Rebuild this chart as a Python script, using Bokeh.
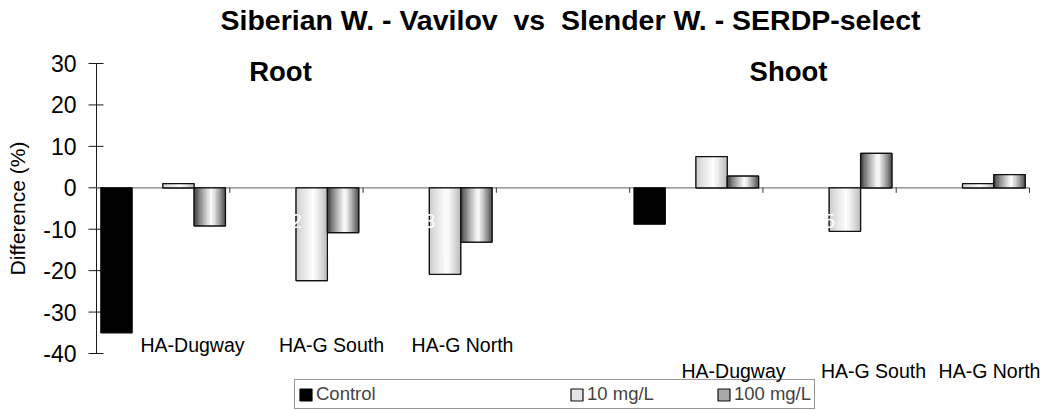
import numpy as np
from bokeh.plotting import figure
from bokeh.models import Range1d, Legend, LegendItem, ColumnDataSource
from bokeh.embed import file_html
from bokeh.resources import INLINE
from bokeh.core.properties import value

# ---------------- data ----------------
title_text = "Siberian W. - Vavilov\u00a0 vs\u00a0 Slender W. - SERDP-select"
categories = ["1", "2", "3", "", "4", "5", "6"]          # category labels (drawn in white)
series_names = ["Control", "\u00a0" * 10, "10 mg/L", "100 mg/L"]
control = [-35.0, None, None, None, -8.8, None, None]
mg10 = [1.0, -22.4, -20.9, None, 7.5, -10.5, 1.0]
mg100 = [-9.2, -10.8, -13.1, None, 2.8, 8.3, 3.2]
group_titles = ["Root", "Shoot"]
root_sites = ["HA-Dugway", "HA-G South", "HA-G North"]
shoot_sites = ["HA-Dugway", "HA-G South", "HA-G North"]
y_ticks = [-40, -30, -20, -10, 0, 10, 20, 30]
y_label = "Difference (%)"

FONT = "Liberation Sans"
N = len(categories)
BW = 0.235
slot = [0.15, 0.385, 0.615, 0.85]

# layout: plot area (0..N, -40..30) occupies canvas px x 96..1029, y 63..353
W, H = 1055, 410
L, R, T, B = 96, 26, 63, 57
Y0, Y1 = min(y_ticks), max(y_ticks)
kx = (W - L - R) / N
ky = (H - T - B) / (Y1 - Y0)
p = figure(width=W, height=H,
           x_range=Range1d(-L / kx, N + R / kx),
           y_range=Range1d(Y0 - B / ky, Y1 + T / ky),
           output_backend="svg", toolbar_location=None, title=None,
           x_axis_location=None, y_axis_location=None,
           min_border=0)
p.grid.visible = False
p.outline_line_color = None
p.background_fill_color = "white"

def dx(px):
    return px / kx

def dy(px):
    return px / ky

# ---- value axis (drawn by hand so that the frame can cover the whole canvas) ----
p.segment(x0=[0], y0=[Y0], x1=[0], y1=[Y1], line_color="#1a1a1a", line_width=1)
p.segment(x0=[-dx(8)] * len(y_ticks), y0=y_ticks, x1=[dx(7)] * len(y_ticks), y1=y_ticks,
          line_color="#1a1a1a", line_width=1)
p.text(x=[-dx(20)] * len(y_ticks), y=y_ticks, text=[str(t) for t in y_ticks],
       text_align="right", text_baseline="middle", text_color="black",
       text_font=value(FONT), text_font_size="23px")
p.text(x=[-dx(79)], y=[(Y0 + Y1) / 2], text=[y_label], angle=np.pi / 2,
       text_align="center", text_baseline="middle", text_color="black",
       text_font=value(FONT), text_font_size="21px")

# category axis line at zero and its boundary ticks
p.segment(x0=[0], y0=[0], x1=[N], y1=[0], line_color="#7f7f7f", line_width=1.2)
bounds = list(range(1, N + 1))
p.segment(x0=bounds, y0=[0] * len(bounds), x1=bounds, y1=[-dy(5)] * len(bounds),
          line_color="#333333", line_width=1)

xs_cat = np.arange(N)

def present(vals):
    idx = [i for i, v in enumerate(vals) if v is not None]
    return [float(xs_cat[i]) for i in idx], [vals[i] for i in idx]

def gray(g):
    g = int(round(max(0, min(255, g))))
    return "#%02x%02x%02x" % (g, g, g)

def strips(vals, off, e_left, e_right, peak=0.55, n=24):
    X, Tp, C = [], [], []
    for i, v in enumerate(vals):
        if v is None:
            continue
        left = i + off - BW / 2
        for k in range(n):
            t = (k + 0.5) / n
            if t < peak:
                g = e_left + (255 - e_left) * (t / peak) ** 0.8
            else:
                g = 255 + (e_right - 255) * ((t - peak) / (1 - peak)) ** 1.2
            X.append(left + (k + 0.5) * BW / n)
            Tp.append(v)
            C.append(gray(g))
    return ColumnDataSource(dict(x=X, top=Tp, color=C)), BW / n * 1.3

# Control (solid black)
cx, cv = present(control)
r_ctrl = p.vbar(x=[x + slot[0] for x in cx], top=cv, bottom=0, width=BW,
                fill_color="black", line_color="black", line_width=1.2)

# hidden series (legend placeholder only)
r_hidden = p.vbar(x=[np.nan], top=[np.nan], bottom=0, width=BW,
                  fill_alpha=0, line_alpha=0)

# 10 mg/L
x10, v10 = present(mg10)
r_10 = p.vbar(x=[x + slot[2] for x in x10], top=v10, bottom=0, width=BW,
              fill_color="#e4e4e4", line_color="#111111", line_width=1.2)
s10, w10 = strips(mg10, slot[2], 200, 185)
p.vbar(x="x", top="top", bottom=0, width=w10, source=s10,
       fill_color="color", line_color=None)
p.vbar(x=[x + slot[2] for x in x10], top=v10, bottom=0, width=BW,
       fill_alpha=0, line_color="#111111", line_width=1.2)

# 100 mg/L
x100, v100 = present(mg100)
r_100 = p.vbar(x=[x + slot[3] for x in x100], top=v100, bottom=0, width=BW,
               fill_color="#a8a8a8", line_color="#111111", line_width=1.2)
s100, w100 = strips(mg100, slot[3], 45, 75)
p.vbar(x="x", top="top", bottom=0, width=w100, source=s100,
       fill_color="color", line_color=None)
p.vbar(x=[x + slot[3] for x in x100], top=v100, bottom=0, width=BW,
       fill_alpha=0, line_color="#111111", line_width=1.2)

# white category labels (as in the original)
p.text(x=list(xs_cat + 0.5), y=[-dy(33)] * N, text=categories, text_color="white",
       text_align="center", text_baseline="middle",
       text_font=value(FONT), text_font_size="20px")

# title and group titles
p.text(x=[dx(474)], y=[Y1 + dy(44)], text=[title_text], text_align="center",
       text_baseline="middle", text_color="black", text_font=value(FONT),
       text_font_style="bold", text_font_size="28.5px")
p.text(x=[dx(184), dx(692)], y=[Y1 - dy(8)] * 2, text=group_titles, text_align="center",
       text_baseline="middle", text_color="black", text_font=value(FONT),
       text_font_style="bold", text_font_size="27.5px")

# site labels
p.text(x=[dx(96), dx(235), dx(366)], y=[Y0 + dy(9)] * 3, text=root_sites,
       text_align="center", text_baseline="middle", text_color="black",
       text_font=value(FONT), text_font_size="19.5px")
p.text(x=[dx(637), dx(777), dx(893)], y=[Y0 - dy(17)] * 3, text=shoot_sites,
       text_align="center", text_baseline="middle", text_color="black",
       text_font=value(FONT), text_font_size="19.5px")

legend = Legend(items=[LegendItem(label=series_names[0], renderers=[r_ctrl]),
                       LegendItem(label=series_names[1], renderers=[r_hidden]),
                       LegendItem(label=series_names[2], renderers=[r_10]),
                       LegendItem(label=series_names[3], renderers=[r_100])],
                orientation="horizontal", location=(294, 1),
                glyph_width=15, glyph_height=15, label_standoff=3, spacing=62,
                padding=3, margin=0, label_height=15,
                label_text_font=FONT, label_text_font_size="18.5px",
                border_line_color="#333333", border_line_width=1,
                background_fill_color="white", background_fill_alpha=0)
p.add_layout(legend, "center")

open("out.html", "w").write(file_html(p, INLINE))
